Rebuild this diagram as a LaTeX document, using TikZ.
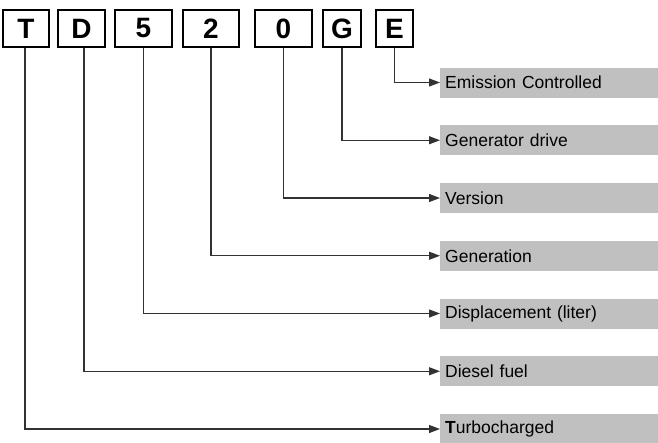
\documentclass[tikz,border=0pt]{standalone}
\usepackage{fontspec}
\setmainfont{Liberation Sans}
\usetikzlibrary{arrows.meta}
\definecolor{labelgray}{RGB}{192,192,192}
\definecolor{linegray}{RGB}{50,50,50}
\begin{document}
\begin{tikzpicture}[x=1pt,y=-1pt,
  letterbox/.style={draw=black,line width=1.3pt,fill=white,inner sep=0pt,
    minimum height=37pt,font=\fontsize{28}{30}\selectfont\bfseries},
  labelbox/.style={fill=labelgray,anchor=west,minimum height=30pt,inner xsep=5pt,inner ysep=0pt,
    text width=208pt,align=left,font=\fontsize{17.5}{20}\selectfont},
  conn/.style={draw=linegray,line width=1.2pt,-{Triangle[length=11pt,width=8pt]}}]
\useasboundingbox (0,0) rectangle (658,442);
% letter boxes
\node[letterbox,minimum width=46pt] (T) at (26,28.5) {T};
\node[letterbox,minimum width=47pt] (D) at (81.5,28.5) {D};
\node[letterbox,minimum width=57pt] (N5) at (143.5,28.5) {5};
\node[letterbox,minimum width=56pt] (N2) at (211,28.5) {2};
\node[letterbox,minimum width=57pt] (N0) at (283.5,28.5) {0};
\node[letterbox,minimum width=38pt] (G) at (342,28.5) {G};
\node[letterbox,minimum width=37pt] (E) at (394.5,28.5) {E};
% labels
\node[labelbox] (lE) at (440,82.5) {Emission Controlled};
\node[labelbox] (lG) at (440,140.25) {Generator drive};
\node[labelbox] (l0) at (440,198) {Version};
\node[labelbox] (l2) at (440,255.75) {Generation};
\node[labelbox] (l5) at (440,313.5) {Displacement (liter)};
\node[labelbox] (lD) at (440,371.25) {Diesel fuel};
\node[labelbox] (lT) at (440,429) {\textbf{T}urbocharged};
% connectors
\draw[conn] (E.south) |- (lE.west);
\draw[conn] (G.south) |- (lG.west);
\draw[conn] (N0.south) |- (l0.west);
\draw[conn] (N2.south) |- (l2.west);
\draw[conn] (N5.south) |- (l5.west);
\draw[conn] ([xshift=2.5pt]D.south) |- (lD.west);
\draw[conn] ([xshift=-1pt]T.south) |- (lT.west);
\end{tikzpicture}
\end{document}
